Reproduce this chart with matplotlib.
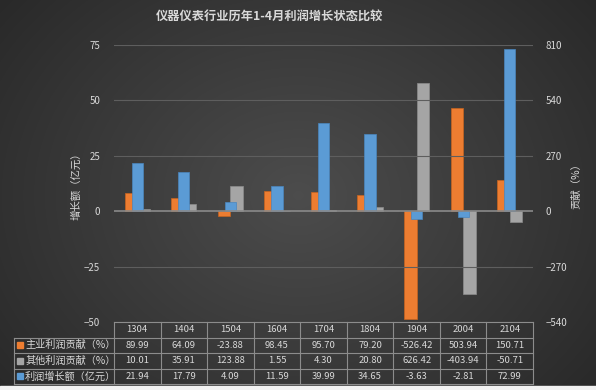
import numpy as np
import matplotlib
matplotlib.use("Agg")
import matplotlib.pyplot as plt
from matplotlib.patches import Rectangle
from matplotlib.lines import Line2D

plt.rcParams['font.family'] = ['Noto Sans CJK SC', 'DejaVu Sans']

title = "仪器仪表行业历年1-4月利润增长状态比较"
categories = ["1304", "1404", "1504", "1604", "1704", "1804", "1904", "2004", "2104"]
main_contrib = [89.99, 64.09, -23.88, 98.45, 95.70, 79.20, -526.42, 503.94, 150.71]
other_contrib = [10.01, 35.91, 123.88, 1.55, 4.30, 20.80, 626.42, -403.94, -50.71]
profit_growth = [21.94, 17.79, 4.09, 11.59, 39.99, 34.65, -3.63, -2.81, 72.99]
series_names = ["主业利润贡献（%）", "其他利润贡献（%）", "利润增长额（亿元）"]
left_ticks = [-50, -25, 0, 25, 50, 75]
right_ticks = [-540, -270, 0, 270, 540, 810]
left_label = "增长额（亿元）"
right_label = "贡献（%）"

c_orange = "#ED7D31"
c_gray = "#A5A5A5"
c_blue = "#5B9BD5"
txt = "#D9D9D9"
W, H = 596, 390

fig = plt.figure(figsize=(W / 100, H / 100), dpi=100)

# background radial gradient
bg = fig.add_axes([0, 0, 1, 1], zorder=-10)
yy, xx = np.mgrid[0:H, 0:W]
r = np.sqrt(((xx - W * 0.5) / (W * 0.6)) ** 2 + ((yy - H * 0.5) / (H * 0.75)) ** 2)
v = 0.30 - 0.13 * np.clip(r, 0, 1.3)
img = np.dstack([v, v, v])
bg.imshow(img, extent=[0, W, H, 0], aspect="auto")
bg.add_patch(Rectangle((0, H - 4), W, 4, color="#F2F2F2"))
bg.set_xlim(0, W)
bg.set_ylim(H, 0)
bg.axis("off")

L, R, T, B = 114, 533, 45, 322
ax = fig.add_axes([L / W, 1 - B / H, (R - L) / W, (B - T) / H])
ax.patch.set_alpha(0)
ax2 = ax.twinx()
ax2.patch.set_alpha(0)

x = np.arange(len(categories))
ws = 0.27
wb = 0.24
ax2.bar(x - ws / 2, main_contrib, ws, color=c_orange, edgecolor="#C8641F", linewidth=0.5, zorder=2)
ax2.bar(x + ws / 2, other_contrib, ws, color=c_gray, edgecolor="#8C8C8C", linewidth=0.5, zorder=2)
ax.set_zorder(ax2.get_zorder() + 1)
ax.bar(x, profit_growth, wb, color=c_blue, edgecolor="#4A86BE", linewidth=0.5, zorder=3)

ax.set_xlim(-0.5, len(categories) - 0.5)
ax.set_ylim(left_ticks[0], left_ticks[-1])
ax2.set_ylim(right_ticks[0], right_ticks[-1])
ax.set_yticks(left_ticks)
ax2.set_yticks(right_ticks)
ax.set_xticks([])
for a in (ax, ax2):
    for s in a.spines.values():
        s.set_visible(False)
    a.tick_params(axis="y", length=0, colors=txt, labelsize=7, pad=10)
ax2.tick_params(axis="y", pad=9)
for t in left_ticks:
    if t != 0:
        ax.axhline(t, color="#5E5E5E", linewidth=0.8, zorder=0)
ax.axhline(0, color="#8A8A8A", linewidth=1.2, zorder=4)

ax.set_ylabel(left_label, color=txt, fontsize=7.5, labelpad=2)
ax2.set_ylabel(right_label, color=txt, fontsize=7.5, rotation=90, labelpad=3)

fig.text(270 / W, 1 - 17 / H, title, color=txt, fontsize=8.8, fontweight="bold",
         ha="center", va="center")

# data table
row_edges = [322, 337.5, 353, 368.5, 384]
def fx(px):
    return px / W
def fy(py):
    return 1 - py / H
col_w = (R - L) / len(categories)
lc = "#8C8C8C"
fig.add_artist(Line2D([fx(L), fx(R)], [fy(row_edges[0])] * 2, color=lc, lw=0.8))
for py in row_edges[1:]:
    fig.add_artist(Line2D([fx(14), fx(R)], [fy(py)] * 2, color=lc, lw=0.8))
for i in range(len(categories) + 1):
    px = L + i * col_w
    fig.add_artist(Line2D([fx(px)] * 2, [fy(row_edges[0]), fy(row_edges[-1])], color=lc, lw=0.8))
fig.add_artist(Line2D([fx(14)] * 2, [fy(row_edges[1]), fy(row_edges[-1])], color=lc, lw=0.8))

for i, c in enumerate(categories):
    cx = L + (i + 0.5) * col_w
    fig.text(fx(cx), fy((row_edges[0] + row_edges[1]) / 2), c, color=txt, fontsize=6.8, ha="center", va="center")
rows = [main_contrib, other_contrib, profit_growth]
colors = [c_orange, c_gray, c_blue]
for r_i, (vals, name, col) in enumerate(zip(rows, series_names, colors)):
    cy = (row_edges[r_i + 1] + row_edges[r_i + 2]) / 2
    for i, vv in enumerate(vals):
        cx = L + (i + 0.5) * col_w
        fig.text(fx(cx), fy(cy), f"{vv:.2f}", color=txt, fontsize=6.8, ha="center", va="center")
    fig.add_artist(Rectangle((fx(17), fy(cy + 3)), 6 / W, 6 / H, color=col, transform=fig.transFigure))
    fig.text(fx(25), fy(cy), name, color=txt, fontsize=7.3, ha="left", va="center")

fig.savefig("out.png", dpi=100)
